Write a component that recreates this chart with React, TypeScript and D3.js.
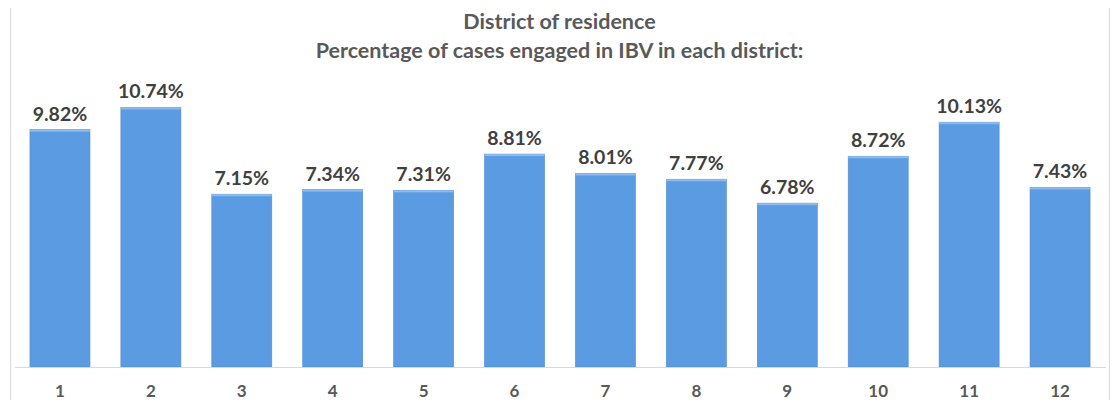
import React, { useRef, useEffect } from 'react';
import * as d3 from 'd3';

const districts = ['1', '2', '3', '4', '5', '6', '7', '8', '9', '10', '11', '12'];
const percentages = [9.82, 10.74, 7.15, 7.34, 7.31, 8.81, 8.01, 7.77, 6.78, 8.72, 10.13, 7.43];
const titleLines = ['District of residence', 'Percentage of cases engaged in IBV in each district:'];

const W = 1119;
const H = 408;

const App = () => {
    const ref = useRef<SVGSVGElement>(null);

    useEffect(() => {
        if (!ref.current) return;
        const svg = d3.select(ref.current);
        svg.selectAll('*').remove();

        const font = 'Lato, "Open Sans", sans-serif';
        const plot = { left: 14.5, right: 1105.5, top: 77, bottom: 367 };

        // chart frame
        svg.append('rect')
            .attr('x', 10.5).attr('y', 2.5)
            .attr('width', 1099).attr('height', 404)
            .attr('fill', '#fff')
            .attr('stroke', '#d9d9d9');

        // title
        svg.append('g').selectAll('text')
            .data(titleLines)
            .enter().append('text')
            .attr('x', W / 2)
            .attr('y', (d, i) => 29 + i * 29)
            .attr('text-anchor', 'middle')
            .attr('font-family', font)
            .attr('font-weight', 700)
            .attr('font-size', 21.5)
            .attr('fill', '#595959')
            .text(d => d);

        const x = d3.scaleBand()
            .domain(districts)
            .range([plot.left, plot.right])
            .paddingInner(0.34)
            .paddingOuter(0.17);

        const y = d3.scaleLinear()
            .domain([0, 12])
            .range([plot.bottom, plot.top]);

        const data = districts.map((d, i) => ({ d, v: percentages[i] }));

        const bars = svg.append('g').selectAll('g')
            .data(data)
            .enter().append('g');

        bars.append('rect')
            .attr('x', d => x(d.d)!)
            .attr('y', d => y(d.v))
            .attr('width', x.bandwidth())
            .attr('height', d => y(0) - y(d.v))
            .attr('fill', '#5b9be1')
            .attr('stroke', '#4f8acb')
            .attr('stroke-width', 0.6);

        // lighter top edge
        bars.append('rect')
            .attr('x', d => x(d.d)!)
            .attr('y', d => y(d.v))
            .attr('width', x.bandwidth())
            .attr('height', 2)
            .attr('fill', '#8fbcf0');

        // value labels
        bars.append('text')
            .attr('x', d => x(d.d)! + x.bandwidth() / 2)
            .attr('y', d => y(d.v) - 9)
            .attr('text-anchor', 'middle')
            .attr('font-family', font)
            .attr('font-weight', 700)
            .attr('font-size', 19.5)
            .attr('fill', '#404040')
            .text(d => d.v.toFixed(2) + '%');

        // category axis
        const axis = svg.append('g')
            .attr('transform', `translate(0,${plot.bottom})`)
            .call(d3.axisBottom(x).tickSize(0).tickPadding(18));
        axis.select('.domain').attr('stroke', '#d9d9d9').attr('stroke-width', 1);
        axis.selectAll('text')
            .attr('font-family', font)
            .attr('font-weight', 700)
            .attr('font-size', 17)
            .attr('fill', '#595959');
    }, []);

    return <svg ref={ref} width={W} height={H} style={{ display: 'block', margin: '-8px' }} />;
};

export default App;
